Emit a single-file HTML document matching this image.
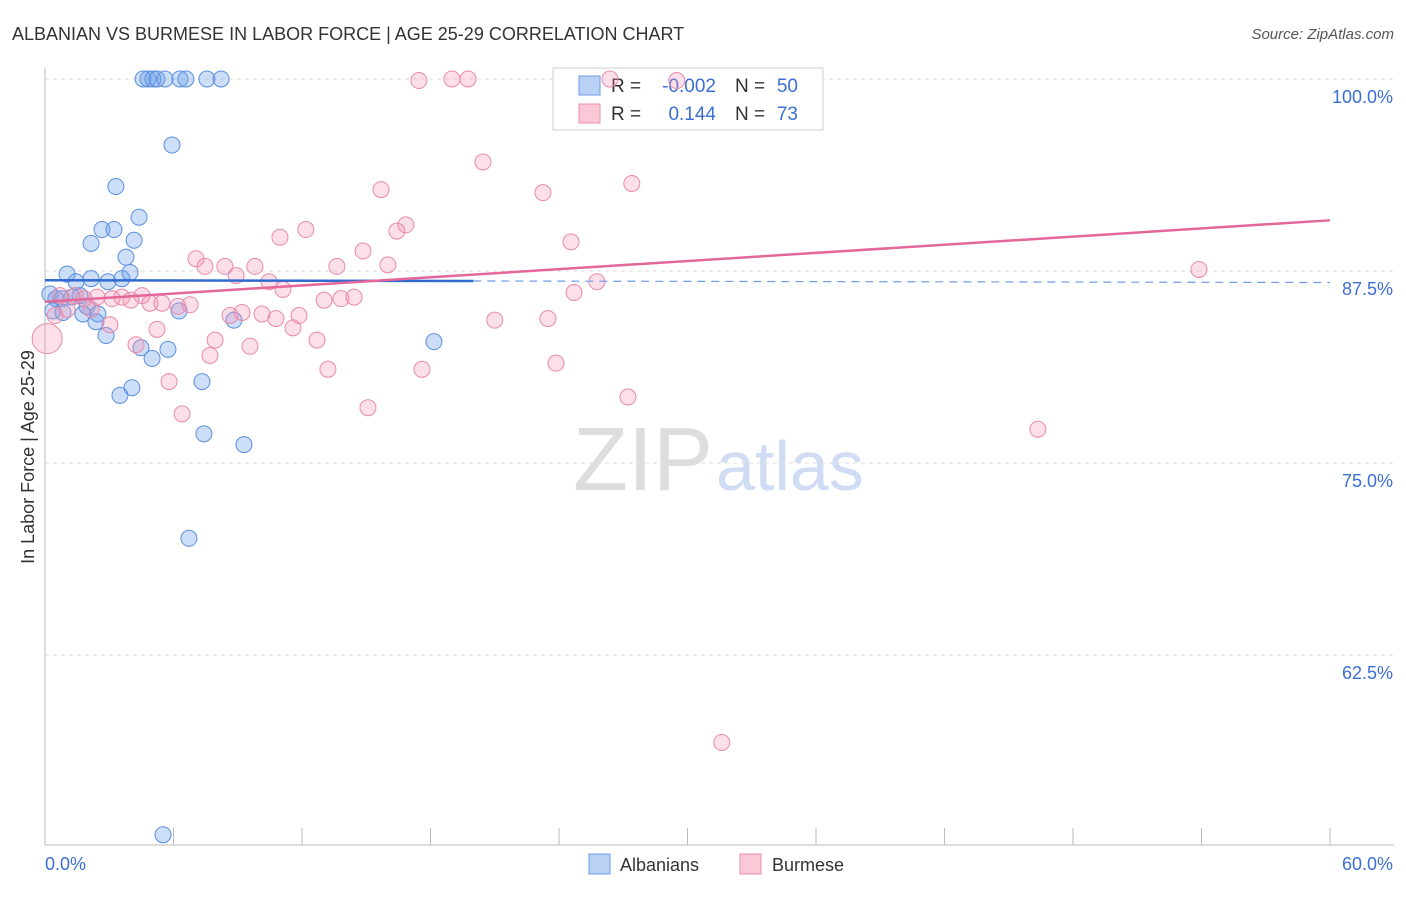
<!DOCTYPE html>
<html><head><meta charset="utf-8"><style>
body{margin:0;background:#fff;font-family:"Liberation Sans",sans-serif;}
svg text{font-family:"Liberation Sans",sans-serif;}
</style></head><body>
<svg id="chart" width="1406" height="892">
<text x="12" y="40" font-size="18" fill="#333">ALBANIAN VS BURMESE IN LABOR FORCE | AGE 25-29 CORRELATION CHART</text>
<text x="1394" y="39" font-size="15" fill="#555" font-style="italic" text-anchor="end">Source: ZipAtlas.com</text>
<text x="713" y="490" font-size="90" fill="#ddd" text-anchor="end" font-family="Liberation Serif">ZIP</text>
<text x="716" y="490" font-size="70" fill="#cfdcf3">atlas</text>
<g id="grid"></g><g id="axes"></g>
<g>
<rect x="553" y="68" width="270" height="62" fill="#fff" stroke="#ccc"/>
<rect x="579" y="76" width="21" height="19" fill="#b9d1f5" stroke="#6d9be6"/>
<rect x="579" y="104" width="21" height="19" fill="#fbc8d7" stroke="#eb8fae"/>
<text x="611" y="92" font-size="19" fill="#333">R =</text>
<text x="716" y="92" font-size="19" fill="#3b6fd4" text-anchor="end">-0.002</text>
<text x="735" y="92" font-size="19" fill="#333">N =</text>
<text x="798" y="92" font-size="19" fill="#3b6fd4" text-anchor="end">50</text>
<text x="611" y="120" font-size="19" fill="#333">R =</text>
<text x="716" y="120" font-size="19" fill="#3b6fd4" text-anchor="end">0.144</text>
<text x="735" y="120" font-size="19" fill="#333">N =</text>
<text x="798" y="120" font-size="19" fill="#3b6fd4" text-anchor="end">73</text>
</g>
<g id="marks"></g>
<text transform="translate(34,457) rotate(-90)" font-size="18" fill="#333" text-anchor="middle">In Labor Force | Age 25-29</text>
<text x="45" y="870" font-size="18" fill="#3b6fd4">0.0%</text>
<text x="1393" y="870" font-size="18" fill="#3b6fd4" text-anchor="end">60.0%</text>
<g>
<rect x="589" y="854" width="21" height="20" fill="#b9d1f5" stroke="#6d9be6"/>
<text x="620" y="871" font-size="18" fill="#333">Albanians</text></g>
<g>
<rect x="740" y="854" width="21" height="20" fill="#fbc8d7" stroke="#eb8fae"/>
<text x="772" y="871" font-size="18" fill="#333">Burmese</text></g>
</svg>
<script>
const yTicks=[100,87.5,75,62.5];
const yTickLabels=["100.0%","87.5%","75.0%","62.5%"];
const xTicks=[0,6,12,18,24,30,36,42,48,54,60];
const albX=[4.58,4.81,5.04,5.23,5.6,6.3,6.58,7.56,8.22,5.93,3.31,4.39,2.66,3.22,2.15,4.16,3.78,1.03,1.45,2.15,2.94,3.59,3.97,0.23,0.51,0.79,1.26,1.63,1.96,0.37,0.84,1.77,2.47,2.38,6.26,8.82,2.85,4.48,5.74,5.0,18.16,4.06,3.5,7.33,7.42,9.29,6.72,5.51];
const albY=[100,100,100,100,100,100,100,100,100,95.7,93.0,91.0,90.2,90.2,89.3,89.5,88.4,87.3,86.8,87.0,86.8,87.0,87.4,86.0,85.7,85.7,85.8,85.9,85.2,84.9,84.8,84.7,84.7,84.2,84.9,84.3,83.3,82.5,82.4,81.8,82.9,79.9,79.4,80.3,76.9,76.2,70.1,50.8];
const burX=[17.46,19.0,19.75,26.38,29.5,20.45,15.69,23.25,27.4,16.85,16.43,12.18,10.97,24.56,14.85,7.05,7.47,8.4,8.92,9.8,13.63,16.01,10.46,11.11,25.77,24.7,53.88,0.7,1.4,1.82,2.43,3.13,3.59,4.01,4.53,4.9,5.46,6.21,6.77,8.64,9.2,10.13,10.78,11.86,13.03,13.82,14.43,11.58,12.7,7.94,9.57,5.23,4.25,3.03,2.15,1.03,0.47,0.1,7.7,13.21,5.79,6.4,15.08,17.6,21.0,23.48,23.86,27.22,46.36,31.6];
const burY=[99.9,100,100,100,99.9,94.6,92.8,92.6,93.2,90.5,90.1,90.2,89.7,89.4,88.8,88.3,87.8,87.8,87.2,87.8,87.8,87.9,86.8,86.3,86.8,86.1,87.6,85.9,85.9,85.7,85.8,85.7,85.8,85.6,85.9,85.4,85.4,85.2,85.3,84.6,84.8,84.7,84.4,84.6,85.6,85.7,85.8,83.8,83.0,83.0,82.6,83.7,82.7,84.0,85.0,85.0,84.6,83.1,82.0,81.1,80.3,78.2,78.6,81.1,84.3,84.4,81.5,79.3,77.2,56.8];
const albTrend=[86.9,86.75];
const burTrend=[85.5,90.8];
const NS="http://www.w3.org/2000/svg";
const xs=v=>45+v*21.417;
const ys=v=>79+(100-v)*15.36;
function mk(tag,attrs,parent){const e=document.createElementNS(NS,tag);for(const k in attrs)e.setAttribute(k,attrs[k]);parent.appendChild(e);return e;}
const grid=document.getElementById('grid'),axes=document.getElementById('axes'),marks=document.getElementById('marks');
yTicks.forEach((t,i)=>{
 const l=mk('line',{x1:45,x2:1394,y1:ys(t),y2:ys(t),stroke:'#ddd','stroke-dasharray':'4,4'},grid);
 
 
 const tx=mk('text',{x:1393,y:ys(t)+24,'font-size':18,fill:'#3b6fd4','text-anchor':'end'},grid);
 tx.textContent=yTickLabels[i];
 
 
});
const ya=mk('line',{x1:45,x2:45,y1:68,y2:845,stroke:'#bbb'},axes);


const xa=mk('line',{x1:45,x2:1394,y1:845,y2:845,stroke:'#bbb'},axes);


xTicks.forEach(t=>{
 const l=mk('line',{x1:xs(t),x2:xs(t),y1:828,y2:845,stroke:'#bbb'},axes);
 
 
});
albX.forEach((x,i)=>{
 const c=mk('circle',{cx:xs(x),cy:ys(albY[i]),r:8,fill:'rgba(110,160,235,0.35)',stroke:'#5b8fe0','stroke-width':1},marks);
 
 
});
burX.forEach((x,i)=>{
 const c=mk('circle',{cx:xs(x),cy:ys(burY[i]),r:(i==57?15:8),fill:'rgba(245,150,180,0.3)',stroke:'#ea8aab','stroke-width':1},marks);
 
 
});
const at=x=>albTrend[0]+(albTrend[1]-albTrend[0])*x/60;
const a1=mk('line',{x1:xs(0),y1:ys(at(0)),x2:xs(20),y2:ys(at(20)),stroke:'#2f6bd0','stroke-width':2.5},marks);


const a2=mk('line',{x1:xs(20),y1:ys(at(20)),x2:xs(60),y2:ys(at(60)),stroke:'#6d9be6','stroke-width':1.2,'stroke-dasharray':'8,6'},marks);


const b1=mk('line',{x1:xs(0),y1:ys(burTrend[0]),x2:xs(60),y2:ys(burTrend[1]),stroke:'#e4679a','stroke-width':2.5},marks);


</script>
</body></html>
